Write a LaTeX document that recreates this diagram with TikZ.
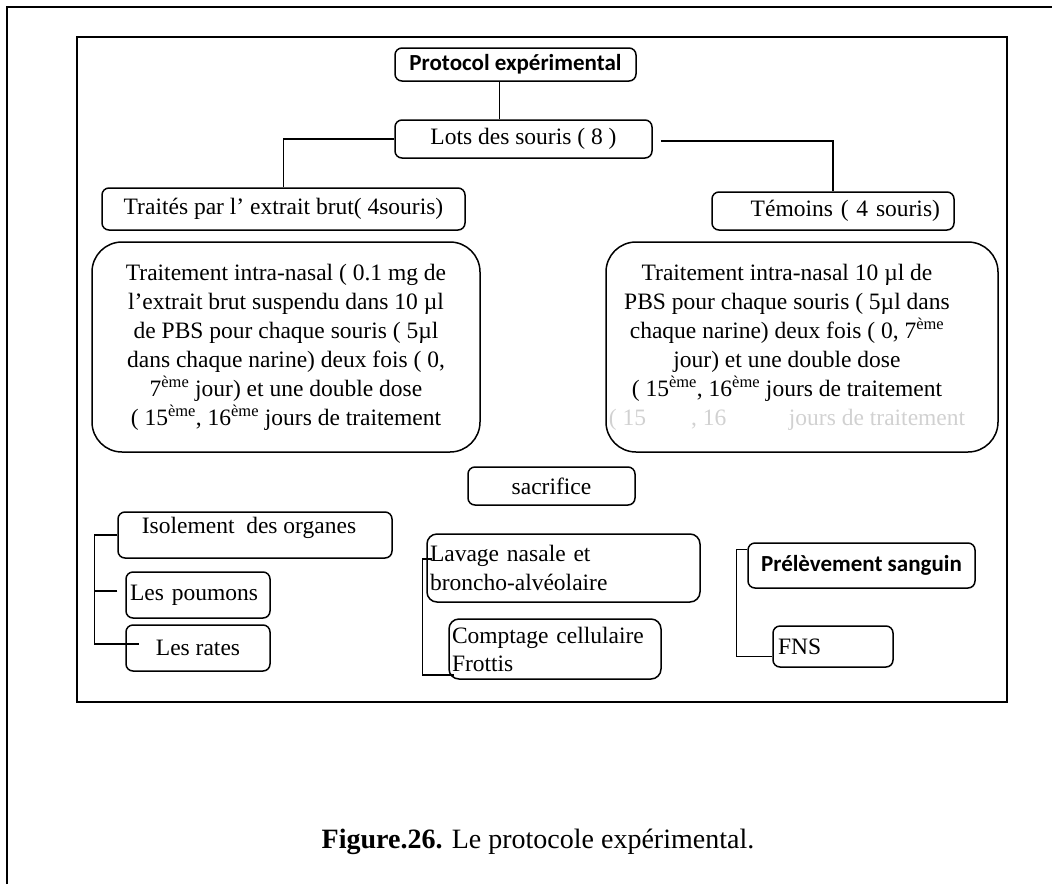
\documentclass[tikz,border=0pt]{standalone}
\usepackage{fontspec}
\setmainfont{Liberation Serif}
\newfontfamily\calibfont{Carlito}
\tikzset{
  pbox/.style={draw, rounded corners=7pt, line width=1.5pt, inner sep=0pt,
    font=\fontsize{23.5}{29}\selectfont},
  bigbox/.style={pbox, rounded corners=30pt, align=center,
    minimum width=#1, minimum height=210pt},
  link/.style={line width=1.5pt},
}
\begin{document}
\begin{tikzpicture}[x=1pt,y=-1pt]
\useasboundingbox (0,0) rectangle (1052,884);
\draw[line width=2pt] (7,884) -- (7,7) -- (1052,7);
\draw[line width=2pt] (77,37) rectangle (1007,702);

\node[pbox, minimum width=241pt, minimum height=33pt,
  font=\calibfont\bfseries\fontsize{23}{26}\selectfont] (title) at (515.5,64.5) {Protocol expérimental};
\node[pbox, minimum width=257pt, minimum height=38pt] (lots) at (523.5,139) {Lots des souris ( 8 )};
\node[pbox, minimum width=363pt, minimum height=42pt] (traites) at (283.5,209) {Traités par l’ extrait brut( 4souris)};
\node[pbox, minimum width=242pt, minimum height=38pt, text width=214pt, align=right] (temoins) at (833,211) {Témoins ( 4 souris)};

\node[bigbox=388pt] (lbig) at (286,347) {Traitement intra-nasal ( 0.1 mg de\\
  l’extrait brut suspendu dans 10 µl\\
  de PBS pour chaque souris ( 5µl\\
  dans chaque narine) deux fois ( 0,\\
  7\textsuperscript{ème} jour) et une double dose\\
  ( 15\textsuperscript{ème}, 16\textsuperscript{ème} jours de traitement};
\node[pbox, rounded corners=30pt, minimum width=392pt, minimum height=210pt] (rbig) at (802,347)
  {\begin{tabular}{@{}c@{}}Traitement intra-nasal 10 µl de\\
  PBS pour chaque souris ( 5µl dans\\
  chaque narine) deux fois ( 0, 7\textsuperscript{ème}\\
  jour) et une double dose\\
  ( 15\textsuperscript{ème}, 16\textsuperscript{ème} jours de traitement\\
  \textcolor{black!18}{( 15\phantom{ème} , 16\phantom{ème}\quad jours de traitement}\end{tabular}\hspace*{30pt}};

\node[pbox, minimum width=167pt, minimum height=38pt] (sacr) at (551.5,486) {sacrifice};

% organes
\node[pbox, minimum width=274pt, text height=21pt, text depth=25pt] (iso) at (255,535) {Isolement\ \ des organes\hspace*{12pt}};
\node[pbox, minimum width=144pt, minimum height=46pt, inner xsep=4pt, text width=136pt, align=left] (poum) at (198,595) {Les poumons};
\node[pbox, minimum width=144pt, minimum height=46pt] (rates) at (198,648) {Les rates};
\draw[link] (iso.west) -- ++(-23,0) |- ([xshift=14pt,yshift=4pt]rates.west);
\draw[link] ([xshift=-8pt,yshift=4pt]poum.west) -- ++(-23,0);

% lavage
\node[pbox, rounded corners=10pt, minimum width=273pt, minimum height=68pt, inner xsep=3pt,
  text width=267pt, align=left] (lav) at (563.5,568) {Lavage nasale et\\broncho-alvéolaire};
\node[pbox, rounded corners=10pt, minimum width=212pt, minimum height=60pt, inner xsep=3pt,
  text width=206pt, align=left, font=\fontsize{23.5}{28}\selectfont] (compt) at (555,649) {Comptage cellulaire\\Frottis};
\draw[link] ([xshift=6pt,yshift=9pt]lav.west) -- ++(-10,0) |- ([xshift=6pt,yshift=-26pt]compt.west);

% sang
\node[pbox, minimum width=227pt, minimum height=45pt,
  font=\calibfont\bfseries\fontsize{23}{26}\selectfont] (prel) at (861.5,565.5) {Prélèvement sanguin};
\node[pbox, minimum width=120pt, minimum height=41pt, inner xsep=5pt, text width=110pt, align=left] (fns) at (833,646.5) {FNS};
\draw[link] ([yshift=16pt]prel.west) -- ++(-11,0) |- ([yshift=-10pt]fns.west);

\draw[link] ([xshift=-16pt]title.south) -- ([xshift=-16pt]title.south |- lots.north);
\draw[link] (lots.west) -| (traites.north);
\draw[link] ([xshift=8pt,yshift=-2pt]lots.east) -| (temoins.north);

\node[font=\fontsize{28}{32}\selectfont] (cap) at (538,842) {\textbf{Figure.26.} Le protocole expérimental.};
\end{tikzpicture}
\end{document}
